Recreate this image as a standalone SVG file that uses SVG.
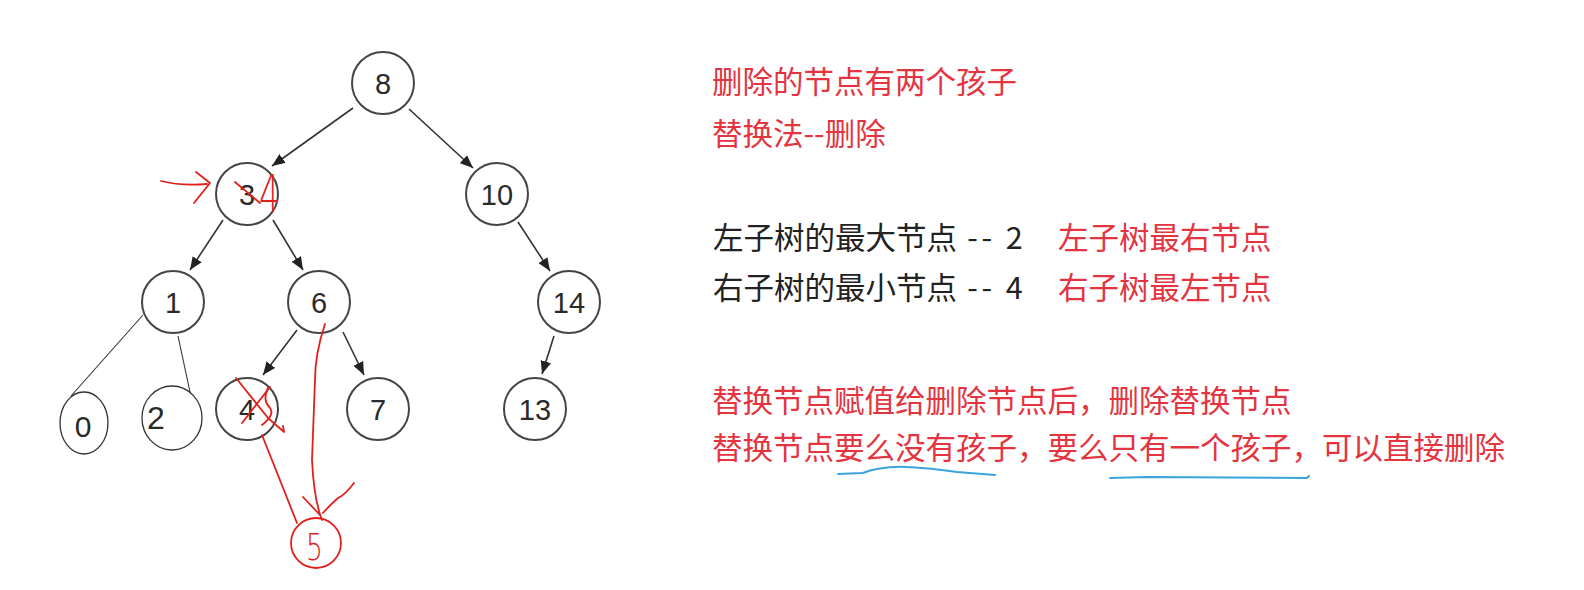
<svg xmlns="http://www.w3.org/2000/svg" width="1584" height="590" viewBox="0 0 1584 590">
<style>
.node{fill:#fff;stroke:#444;stroke-width:2}
.leaf{fill:#fff;stroke:#333;stroke-width:1.3}
.lbl{font-family:"Liberation Sans",Arial,sans-serif;font-size:29px;fill:#2a2a2a;text-anchor:middle}
.edge{stroke:#333;stroke-width:1.6;fill:none;marker-end:url(#arr)}
.thin{stroke:#333;stroke-width:1.1;fill:none}
.red{fill:#e3343f}
.blk{fill:#222}
.txt{font-family:"Noto Sans CJK SC","Noto Sans",sans-serif;font-size:30.5px}
.sp{letter-spacing:3.5px}
.ink{stroke:#e0201c;stroke-width:1.8;fill:none;stroke-linecap:round;stroke-linejoin:round}
.inktxt{font-family:"DejaVu Sans",sans-serif;font-weight:200;fill:#e0201c}
.blue{stroke:#3aa3dc;stroke-width:2;fill:none;stroke-linecap:round}
</style>
<defs>
<marker id="arr" viewBox="0 0 12 10" markerWidth="13" markerHeight="11" refX="12" refY="5" orient="auto" markerUnits="userSpaceOnUse">
<path d="M0,0 L12,5 L0,10 z" fill="#222"/>
</marker>
</defs>
<rect width="1584" height="590" fill="#fff"/>
<g id="connectors">
<line class="edge" x1="353" y1="108" x2="272" y2="166"/>
<line class="edge" x1="409" y1="109" x2="473" y2="168"/>
<line class="edge" x1="223" y1="220" x2="190" y2="270"/>
<line class="edge" x1="273" y1="220" x2="303" y2="270"/>
<line class="edge" x1="518" y1="222" x2="550" y2="271"/>
<line class="edge" x1="297" y1="330" x2="263" y2="375"/>
<line class="edge" x1="343" y1="332" x2="364" y2="375"/>
<line class="edge" x1="554" y1="336" x2="542" y2="374"/>
<line class="thin" x1="143" y1="315" x2="71" y2="396"/>
<line class="thin" x1="178" y1="336" x2="190" y2="392"/>
</g>
<g id="n8"><circle class="node" cx="383" cy="83" r="31"/><text class="lbl" x="383" y="94">8</text></g>
<g id="n3"><circle class="node" cx="247" cy="194" r="31"/><text class="lbl" x="247" y="205">3</text></g>
<g id="n10"><circle class="node" cx="497" cy="194" r="31"/><text class="lbl" x="497" y="205">10</text></g>
<g id="n1"><circle class="node" cx="173" cy="302" r="31"/><text class="lbl" x="173" y="313">1</text></g>
<g id="n6"><circle class="node" cx="319" cy="302" r="31"/><text class="lbl" x="319" y="313">6</text></g>
<g id="n14"><circle class="node" cx="569" cy="302" r="31"/><text class="lbl" x="569" y="313">14</text></g>
<g id="n4"><circle class="node" cx="247" cy="409" r="31"/><text class="lbl" x="247" y="420">4</text></g>
<g id="n7"><circle class="node" cx="378" cy="409" r="31"/><text class="lbl" x="378" y="420">7</text></g>
<g id="n13"><circle class="node" cx="535" cy="409" r="31"/><text class="lbl" x="535" y="420">13</text></g>
<g id="n0"><ellipse class="leaf" cx="84" cy="423" rx="24" ry="31"/><text class="lbl" x="83" y="437" style="font-size:30px">0</text></g>
<g id="n2"><ellipse class="leaf" cx="172" cy="418" rx="30" ry="32"/><text class="lbl" x="156" y="429" style="font-size:32px">2</text></g>
<g id="annotations">
<path class="ink" d="M161 181 Q180 186 207 184"/>
<path class="ink" d="M196 172 L210 183 L194 203"/>
<path class="ink" d="M235 182 L260 203"/>
<text class="inktxt" transform="translate(259 212) scale(0.62 1)" x="0" y="0" style="font-size:52px">4</text>
<path class="ink" d="M236 378 L268 418 L284 432 L283 426"/>
<path class="ink" d="M270 387 L242 423"/>
<path class="ink" d="M268 388 Q262 400 270 408 Q275 415 262 425"/>
<path class="ink" d="M262 435 Q280 480 297 523"/>
<path class="ink" d="M325 324 C318 345 315 360 315 380 L312 460 Q314 500 322 520"/>
<path class="ink" d="M303 497 L320 515"/>
<path class="ink" d="M354 483 Q345 495 338 498 Q330 505 323 513"/>
<ellipse class="ink" cx="316" cy="543" rx="25" ry="25"/>
<text class="inktxt" transform="translate(306 560) scale(0.7 1)" x="0" y="0" style="font-size:38px">5</text>
</g>
<g id="notes" class="txt">
<text class="red" x="712" y="93">删除的节点有两个孩子</text>
<text class="red" x="712" y="145">替换法--删除</text>
<text class="blk" x="713" y="249">左子树的最大节点<tspan class="sp"> -- 2</tspan></text>
<text class="red" x="1058" y="249">左子树最右节点</text>
<text class="blk" x="713" y="299">右子树的最小节点<tspan class="sp"> -- 4</tspan></text>
<text class="red" x="1058" y="299">右子树最左节点</text>
<text class="red" x="712" y="412">替换节点赋值给删除节点后，删除替换节点</text>
<text class="red" x="712" y="459">替换节点要么没有孩子，要么只有一个孩子，可以直接删除</text>
<path class="blue" d="M838 474 L863 473 Q870 470 877 469 Q895 466 907 467 Q930 468 957 472 L995 475"/>
<path class="blue" d="M1110 478 L1147 477 L1307 478 L1309 476"/>
</g>
</svg>
